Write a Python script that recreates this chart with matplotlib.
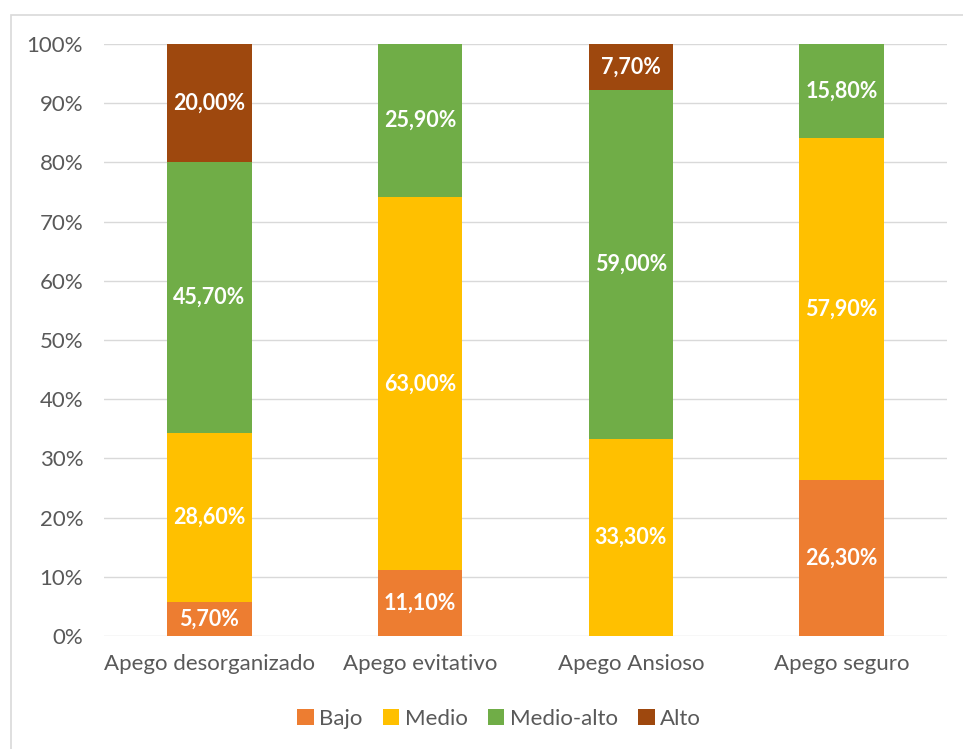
import numpy as np
import matplotlib.pyplot as plt
from matplotlib.patches import Rectangle

categories = ["Apego desorganizado", "Apego evitativo", "Apego Ansioso", "Apego seguro"]
series = ["Bajo", "Medio", "Medio-alto", "Alto"]
bajo = [5.7, 11.1, 0.0, 26.3]
medio = [28.6, 63.0, 33.3, 57.9]
medio_alto = [45.7, 25.9, 59.0, 15.8]
alto = [20.0, 0.0, 7.7, 0.0]
colors = ["#ED7D31", "#FFC000", "#70AD47", "#9E480E"]

plt.rcParams['font.family'] = ['Lato', 'DejaVu Sans']
W, H = 963, 749
fig = plt.figure(figsize=(W / 100, H / 100), dpi=100)
fig.patches.append(Rectangle((11 / W, -0.01), 1.0, 1 - 15 / H + 0.01, transform=fig.transFigure,
                             fill=False, edgecolor="#D9D9D9", linewidth=1.2))
ax = fig.add_axes([104 / W, 1 - 636 / H, (947 - 104) / W, (636 - 44) / H])

x = np.arange(len(categories))
bottom = np.zeros(len(categories))
for name, vals, c in zip(series, [bajo, medio, medio_alto, alto], colors):
    vals = np.array(vals)
    ax.bar(x, vals, 0.4, bottom=bottom, color=c, label=name, zorder=3)
    for xi, b, v in zip(x, bottom, vals):
        if v > 0:
            ax.text(xi, b + v / 2, f"{v:.2f}%".replace(".", ","), ha="center", va="center",
                    color="white", fontsize=15.5, fontweight="bold", zorder=4)
    bottom += vals

ax.set_xlim(-0.5, 3.5)
ax.set_ylim(0, 100)
ax.set_yticks(np.arange(0, 101, 10))
ax.set_yticklabels([f"{t}%" for t in range(0, 101, 10)])
ax.set_xticks(x)
ax.set_xticklabels(categories)
ax.grid(axis="y", color="#D9D9D9", linewidth=1, zorder=0)
for s in ax.spines.values():
    s.set_visible(False)
ax.tick_params(length=0, labelsize=16, colors="#595959")
ax.tick_params(axis="x", pad=13)
ax.tick_params(axis="y", pad=15)

ax.legend(loc="center", bbox_to_anchor=(499 / W, 1 - 719 / H), bbox_transform=fig.transFigure,
          ncol=4, frameon=False, fontsize=16, labelcolor="#595959",
          handlelength=0.75, handleheight=0.75, handletextpad=0.25, columnspacing=0.9)

fig.savefig("out.png", dpi=100)
